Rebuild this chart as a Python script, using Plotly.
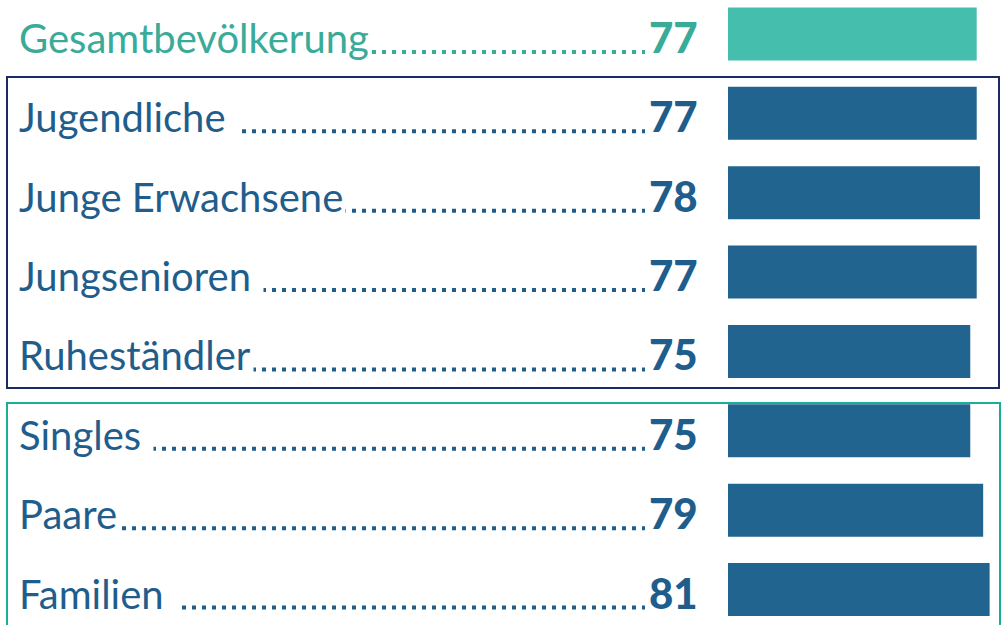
import plotly.graph_objects as go

categories = ["Gesamtbevölkerung", "Jugendliche", "Junge Erwachsene", "Jungsenioren",
              "Ruheständler", "Singles", "Paare", "Familien"]
values = [77, 77, 78, 77, 75, 75, 79, 81]
groups = ["total", "age", "age", "age", "age", "household", "household", "household"]
space_before_leader = [False, True, False, True, False, True, False, True]

TEAL_BAR = "#45BEAE"
TEAL_TEXT = "#3AAA99"
BLUE = "#20648F"
BLUE_TEXT = "#1F5E8C"
NAVY_BOX = "#1C2B66"
TEAL_BOX = "#1AAE98"

W, H = 1002, 625
bar_colors = [TEAL_BAR if g == "total" else BLUE for g in groups]
text_colors = [TEAL_TEXT if g == "total" else BLUE_TEXT for g in groups]

fig = go.Figure()
fig.add_trace(go.Bar(
    x=values, y=categories, orientation="h",
    marker=dict(color=bar_colors, line=dict(width=0)),
    hoverinfo="x+y", showlegend=False,
))

px_per_unit = 3.23
x0_px = 728
fig.update_layout(
    width=W, height=H,
    margin=dict(l=0, r=0, t=0, b=0),
    paper_bgcolor="white", plot_bgcolor="white",
    bargap=0.332,
    xaxis=dict(domain=[x0_px / W, 1], range=[0, (W - x0_px) / px_per_unit],
               visible=False, fixedrange=True),
    yaxis=dict(type="category", categoryorder="array", categoryarray=categories,
               range=[7.447, -0.428], visible=False, fixedrange=True),
)

def px(xp):
    return xp / W

for cat, val, col, sp in zip(categories, values, text_colors, space_before_leader):
    # dotted leader
    fig.add_shape(type="line", xref="paper", yref="y", ysizemode="pixel",
                  yanchor=cat, x0=px(22), x1=px(645), y0=-18, y1=-18,
                  line=dict(color=col, width=4, dash="4px,6px"), layer="below")
    # label
    fig.add_annotation(x=px(16), y=cat, xref="paper", yref="y",
                       xanchor="left", yanchor="middle",
                       text=cat + ("\u00a0" if sp else ""), showarrow=False,
                       font=dict(family="Lato", size=40, color=col),
                       bgcolor="white", borderpad=2, yshift=-4)
    # value
    fig.add_annotation(x=px(700), y=cat, xref="paper", yref="y",
                       xanchor="right", yanchor="middle",
                       text=str(val), showarrow=False,
                       font=dict(family="Lato", size=42, color=col, weight=900),
                       borderpad=1, yshift=-3)

# group frames
fig.add_shape(type="rect", xref="paper", yref="paper",
              x0=px(7), x1=px(999), y0=1 - 388 / H, y1=1 - 77 / H,
              line=dict(color=NAVY_BOX, width=2), layer="below")
fig.add_shape(type="rect", xref="paper", yref="paper",
              x0=px(7), x1=px(1000), y0=1 - 630 / H, y1=1 - 403 / H,
              line=dict(color=TEAL_BOX, width=2), layer="below")

fig.write_html("out.html", config={"displayModeBar": False},
               post_script="document.body.style.margin='0';document.body.style.overflow='hidden';")
